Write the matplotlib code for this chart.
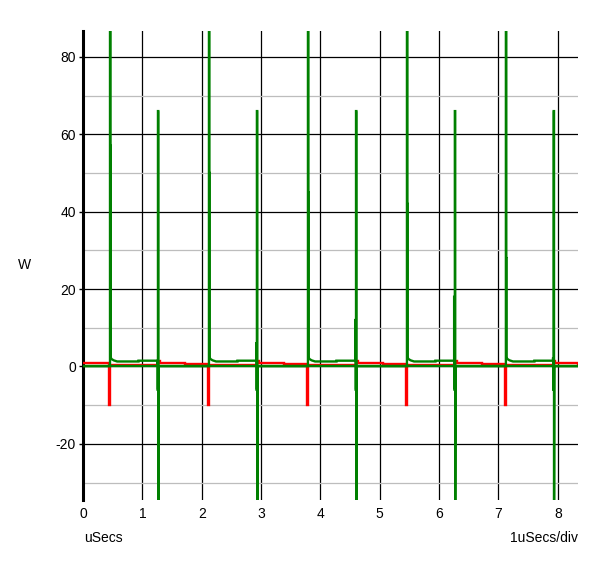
import matplotlib
matplotlib.use("Agg")
import matplotlib.pyplot as plt
from matplotlib.ticker import MultipleLocator

plt.rcParams['font.family'] = ['Liberation Sans', 'DejaVu Sans']
plt.rcParams['axes.unicode_minus'] = False

# ---- data (time in uSecs, power in W) ----
tall_times = [0.455, 2.122, 3.790, 5.458, 7.125]      # big positive green spikes
tall_second = [57, 50, 45, 42, 28]                    # secondary spike next to them
neg_times = [1.263, 2.930, 4.600, 6.265, 7.930]       # green spikes reaching 66 and the bottom
neg_second_hi = [1, 6, 12, 18, 2]
neg_second_lo = [-6, -6, -6, -6, -6]
spike_top = 120.0      # beyond the visible top
spike_66 = 66.0
spike_bottom = -50.0   # beyond the visible bottom
green_low = 0.1
green_decay_start = 2.5
green_on_level1 = 1.3
green_on_level2 = 1.5
red_start = 1.0
red_dip_main = -10.0
red_dip_pre = -4.0
red_after_tall = 0.4
red_bump = 1.4
red_after_neg = 1.0
red_later = 0.7
x_end = 8.34

# ---- build traces from the read events ----
gx, gy = [0.0], [green_low]
for t, sec, n, hi, lo in zip(tall_times, tall_second, neg_times, neg_second_hi, neg_second_lo):
    gx += [t, t, t + 0.006, t + 0.006, t + 0.012, t + 0.012, t + 0.02, t + 0.06, t + 0.12,
           t + 0.48, t + 0.48, n - 0.012, n - 0.012, n - 0.006, n - 0.006, n, n, n + 0.006,
           n + 0.006, n + 0.012]
    gy += [green_low, spike_top, spike_top, sec, sec, green_decay_start, 2.0, 1.6, green_on_level1,
           green_on_level1, green_on_level2, green_on_level2, hi, hi, lo, lo, spike_66, spike_66,
           spike_bottom, green_low]
gx.append(x_end)
gy.append(green_low)

g2x = [0.0, x_end]
g2y = [green_low, green_low]

rx, ry = [0.0], [red_start]
level = red_start
for t, n in zip(tall_times, neg_times):
    rx += [t - 0.02, t - 0.02, t - 0.01, t - 0.01, t, t + 0.004, t + 0.004,
           n, n + 0.004, n + 0.004, n + 0.03, n + 0.03, n + 0.45, n + 0.45]
    ry += [level, red_dip_pre, red_dip_pre, red_dip_main, red_dip_main, red_dip_main, red_after_tall,
           red_after_tall, red_after_tall, red_bump, red_bump, red_after_neg, red_after_neg, red_later]
    level = red_later
rx.append(x_end)
ry.append(red_later)

# ---- figure ----
fig = plt.figure(figsize=(6.0, 5.63), dpi=100)
ax = fig.add_axes([83 / 600, 1 - 500 / 563, 495 / 600, 469 / 563])

ax.set_xlim(0, x_end)
ax.set_ylim(-34.5, 86.7)

ax.xaxis.set_major_locator(MultipleLocator(1))
ax.yaxis.set_major_locator(MultipleLocator(20))
ax.yaxis.set_minor_locator(MultipleLocator(10))

ax.grid(True, which='major', color='black', linewidth=0.9)
ax.grid(True, which='minor', axis='y', color='#bdbdbd', linewidth=0.9)
ax.set_axisbelow(True)

for s in ['top', 'right', 'bottom']:
    ax.spines[s].set_visible(False)
ax.spines['left'].set_linewidth(2.2)
ax.spines['left'].set_color('black')

ax.tick_params(axis='y', which='major', length=3, width=1, pad=2, labelsize=10, colors='black')
ax.tick_params(axis='y', which='minor', length=0)
ax.tick_params(axis='x', length=0, pad=5, labelsize=10, colors='black')

ax.plot(rx, ry, color='#ff0000', linewidth=1.7, solid_joinstyle='miter', zorder=3)
ax.plot(g2x, g2y, color='#008000', linewidth=1.7, zorder=4)
ax.plot(gx, gy, color='#008000', linewidth=1.7, solid_joinstyle='miter', zorder=4)

fig.text(25 / 600, 1 - 265 / 563, 'W', ha='center', va='center', fontsize=10)
fig.text(84 / 600, 1 - 538 / 563, 'uSecs', ha='left', va='center', fontsize=10)
fig.text(578 / 600, 1 - 538 / 563, '1uSecs/div', ha='right', va='center', fontsize=10)

fig.savefig('out.png', dpi=100, facecolor='white')
